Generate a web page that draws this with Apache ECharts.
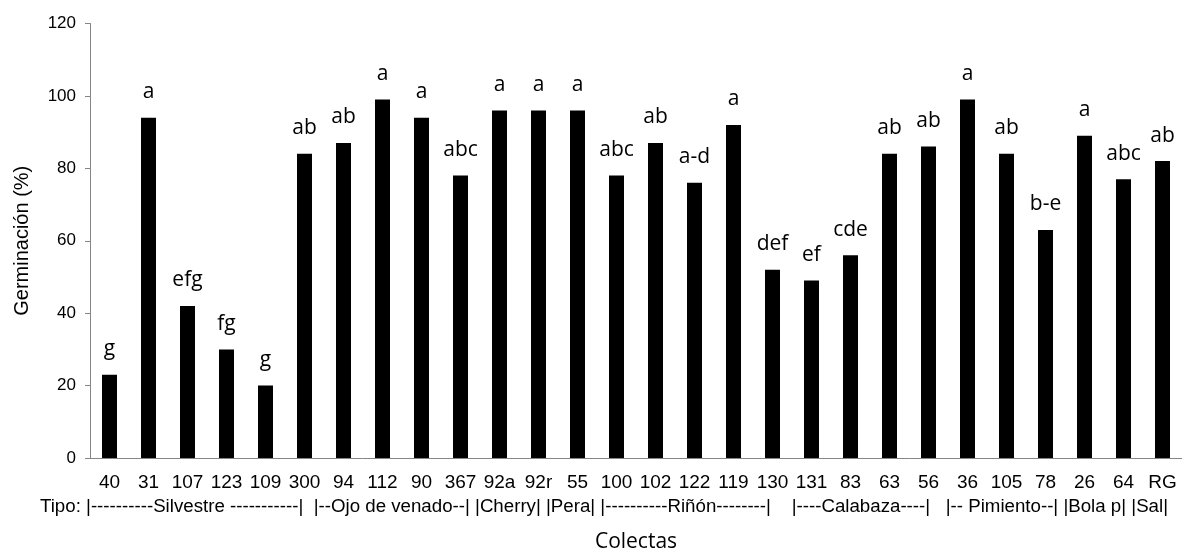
<!DOCTYPE html>
<html>
<head>
<meta charset="utf-8">
<script src="https://cdn.jsdelivr.net/npm/echarts@6/dist/echarts.min.js"></script>
<style>
html,body{margin:0;padding:0;background:#fff;}
#chart{width:1182px;height:559px;}
</style>
</head>
<body>
<div id="chart"></div>
<script>
const categories = ['40','31','107','123','109','300','94','112','90','367','92a','92r','55','100','102','122','119','130','131','83','63','56','36','105','78','26','64','RG'];
const germinacion = [23,94,42,30,20,84,87,99,94,78,96,96,96,78,87,76,92,52,49,56,84,86,99,84,63,89,77,82];
const letras = ['g','a','efg','fg','g','ab','ab','a','a','abc','a','a','a','abc','ab','a-d','a','def','ef','cde','ab','ab','a','ab','b-e','a','abc','ab'];
const yTicks = {min:0, max:120, interval:20};
const tipoText = 'Tipo: |----------Silvestre -----------|  |--Ojo de venado--| |Cherry| |Pera| |----------Riñón--------|    |----Calabaza----|   |-- Pimiento--| |Bola p| |Sal|';
const yTitle = 'Germinación (%)';
const xTitle = 'Colectas';

const chart = echarts.init(document.getElementById('chart'));
const axisGray = '#868686';
chart.setOption({
  animation:false,
  grid:{left:90, top:23.5, bottom:101, width:1094, containLabel:false},
  xAxis:{
    type:'category', data:categories,
    name:xTitle, nameLocation:'middle', nameGap:74,
    nameTextStyle:{fontFamily:'Open Sans', fontSize:21, color:'#000'},
    axisLine:{lineStyle:{color:axisGray, width:1}},
    axisTick:{alignWithLabel:true, length:5, lineStyle:{color:axisGray}},
    axisLabel:{fontFamily:'Liberation Sans', fontSize:19, color:'#000', margin:15, interval:0}
  },
  yAxis:{
    type:'value', min:yTicks.min, max:yTicks.max, interval:yTicks.interval,
    name:yTitle, nameLocation:'middle', nameGap:58, nameRotate:90,
    nameTextStyle:{fontFamily:'Liberation Sans', fontSize:20, color:'#000'},
    axisLine:{show:true, lineStyle:{color:axisGray, width:1}},
    axisTick:{show:true, length:5, lineStyle:{color:axisGray}},
    splitLine:{show:false},
    axisLabel:{fontFamily:'Liberation Sans', fontSize:17, color:'#000', margin:14}
  },
  series:[{
    type:'bar', data:germinacion, barWidth:15,
    itemStyle:{color:'#000'},
    label:{show:true, position:'top', distance:15, fontFamily:'Open Sans', fontSize:21, color:'#000',
      formatter:function(p){return letras[p.dataIndex];}}
  }],
  graphic:[{
    type:'text', left:40, top:497,
    style:{text:tipoText, font:'18.7px "Liberation Sans"', fill:'#000'}
  }]
});
</script>
</body>
</html>
